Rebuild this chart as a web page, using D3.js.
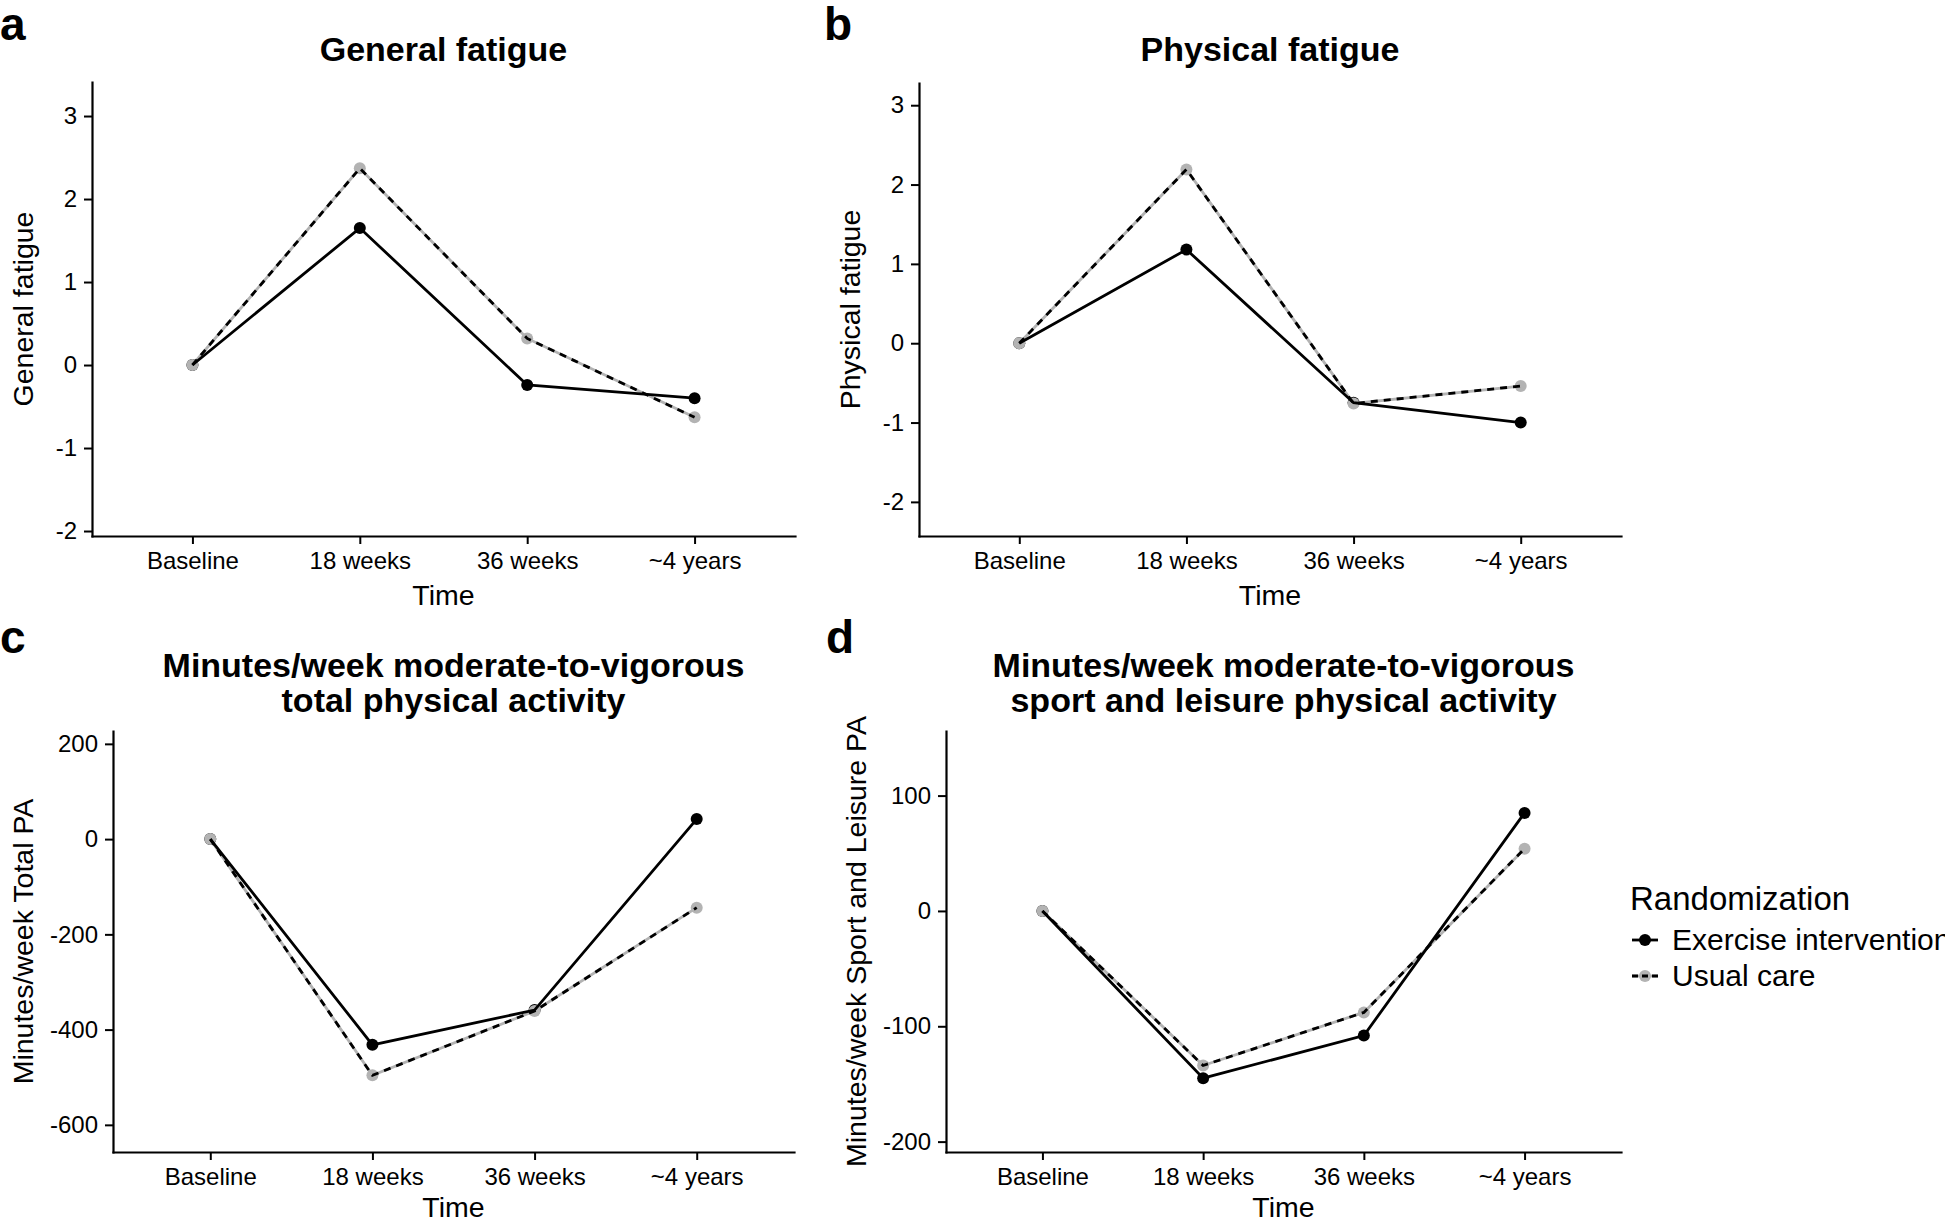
<!DOCTYPE html>
<html>
<head>
<meta charset="utf-8">
<script src="https://cdn.jsdelivr.net/npm/d3@7"></script>
<style>
  html, body { margin: 0; padding: 0; background: #fff; }
  svg { display: block; font-family: "Liberation Sans", Arial, Helvetica, sans-serif; }
</style>
</head>
<body>
<svg id="chart" width="1945" height="1222"></svg>
<script>
// ---------------- data ----------------
const timepoints = ["Baseline", "18 weeks", "36 weeks", "~4 years"];
const groups = ["Exercise intervention", "Usual care"];

const generalExercise = [0, 1.65, -0.24, -0.40];
const generalUsual    = [0, 2.37, 0.32, -0.63];

const physicalExercise = [0, 1.18, -0.75, -1.00];
const physicalUsual    = [0, 2.19, -0.76, -0.54];

const totalPAExercise = [0, -432, -359, 42];
const totalPAUsual    = [0, -496, -361, -144];

const sportPAExercise = [0, -145, -108, 85];
const sportPAUsual    = [0, -134, -88, 54];

const ticksFatigue = [-2, -1, 0, 1, 2, 3];
const ticksTotalPA = [-600, -400, -200, 0, 200];
const ticksSportPA = [-200, -100, 0, 100];

// ---------------- layout ----------------
const svg = d3.select("#chart");
const GRAY = "#b3b3b3";

const panels = [
  { letter: "a", lx: 0, ly: 40, title: ["General fatigue"], titleY: [61],
    ylab: "General fatigue", ylabX: 33,
    x0: 92, x1: 795, yTop: 82, yBot: 536, domain: [-2.06, 3.41], ticks: ticksFatigue,
    ex: generalExercise, uc: generalUsual },
  { letter: "b", lx: 824, ly: 40, title: ["Physical fatigue"], titleY: [61],
    ylab: "Physical fatigue", ylabX: 860,
    x0: 919, x1: 1621, yTop: 83, yBot: 536, domain: [-2.43, 3.28], ticks: ticksFatigue,
    ex: physicalExercise, uc: physicalUsual },
  { letter: "c", lx: 0, ly: 653, title: ["Minutes/week moderate-to-vigorous", "total physical activity"], titleY: [677, 712],
    ylab: "Minutes/week Total PA", ylabX: 33,
    x0: 113, x1: 794, yTop: 731, yBot: 1152, domain: [-657, 227], ticks: ticksTotalPA,
    ex: totalPAExercise, uc: totalPAUsual },
  { letter: "d", lx: 826, ly: 653, title: ["Minutes/week moderate-to-vigorous", "sport and leisure physical activity"], titleY: [677, 712],
    ylab: "Minutes/week Sport and Leisure PA", ylabX: 866,
    x0: 946, x1: 1621, yTop: 731, yBot: 1152, domain: [-209, 156], ticks: ticksSportPA,
    ex: sportPAExercise, uc: sportPAUsual }
];

function drawPanel(p) {
  const x = d3.scalePoint().domain(timepoints).range([p.x0, p.x1]).padding(0.6);
  const y = d3.scaleLinear().domain(p.domain).range([p.yBot, p.yTop]);

  // panel letter
  svg.append("text").attr("x", p.lx).attr("y", p.ly)
    .attr("font-size", 46).attr("font-weight", "bold").text(p.letter);

  // title
  const cx = (p.x0 + p.x1) / 2;
  p.title.forEach((t, i) => {
    svg.append("text").attr("x", cx).attr("y", p.titleY[i])
      .attr("text-anchor", "middle").attr("font-size", 34).attr("font-weight", "bold").text(t);
  });

  // y axis
  const gy = svg.append("g").attr("transform", `translate(${p.x0},0)`)
    .call(d3.axisLeft(y).tickValues(p.ticks).tickSize(8).tickSizeOuter(0).tickPadding(7).tickFormat(d3.format("d")));
  // x axis
  const gx = svg.append("g").attr("transform", `translate(0,${p.yBot})`)
    .call(d3.axisBottom(x).tickSize(8).tickSizeOuter(0).tickPadding(8));
  [gx, gy].forEach(g => {
    g.select(".domain").attr("stroke", "#000").attr("stroke-width", 2.2).attr("stroke-linecap", "square");
    g.selectAll(".tick line").attr("stroke", "#000").attr("stroke-width", 2);
    g.selectAll(".tick text").attr("fill", "#000").attr("font-size", 24)
      .attr("font-family", "'Liberation Sans', Arial, sans-serif");
  });
  gy.selectAll(".tick text").text(d => d < 0 ? "-" + Math.abs(d) : d);

  // axis titles
  svg.append("text").attr("x", cx).attr("y", Math.min(p.yBot + 69, 1217))
    .attr("text-anchor", "middle").attr("font-size", 28.5).text("Time");
  svg.append("text")
    .attr("transform", `translate(${p.ylabX},${(p.yTop + p.yBot) / 2}) rotate(-90)`)
    .attr("text-anchor", "middle").attr("font-size", 28.5).text(p.ylab);

  // marks
  const line = d3.line().x((d, i) => x(timepoints[i])).y(d => y(d));
  const g = svg.append("g");
  g.selectAll("circle.ex").data(p.ex).join("circle").attr("class", "ex")
    .attr("cx", (d, i) => x(timepoints[i])).attr("cy", d => y(d)).attr("r", 6).attr("fill", "#000");
  g.selectAll("circle.uc").data(p.uc).join("circle").attr("class", "uc")
    .attr("cx", (d, i) => x(timepoints[i])).attr("cy", d => y(d)).attr("r", 6).attr("fill", GRAY);
  g.append("path").datum(p.uc).attr("d", line).attr("fill", "none")
    .attr("stroke", GRAY).attr("stroke-width", 2.8);
  g.append("path").datum(p.uc).attr("d", line).attr("fill", "none")
    .attr("stroke", "#000").attr("stroke-width", 2.8).attr("stroke-dasharray", "7,6");
  g.append("path").datum(p.ex).attr("d", line).attr("fill", "none")
    .attr("stroke", "#000").attr("stroke-width", 2.8);
}

panels.forEach(drawPanel);

// ---------------- legend ----------------
const lg = svg.append("g");
lg.append("text").attr("x", 1630).attr("y", 910).attr("font-size", 33).text("Randomization");
const legendY = [940, 976];
groups.forEach((name, i) => {
  const cy = legendY[i];
  const isEx = i === 0;
  if (!isEx) {
    lg.append("line").attr("x1", 1632).attr("x2", 1658).attr("y1", cy).attr("y2", cy)
      .attr("stroke", GRAY).attr("stroke-width", 2.8);
  }
  lg.append("circle").attr("cx", 1645).attr("cy", cy).attr("r", 6).attr("fill", isEx ? "#000" : GRAY);
  lg.append("line").attr("x1", 1632).attr("x2", 1658).attr("y1", cy).attr("y2", cy)
    .attr("stroke", "#000").attr("stroke-width", 2.8)
    .attr("stroke-dasharray", isEx ? null : "6,4");
  lg.append("text").attr("x", 1672).attr("y", cy + 10).attr("font-size", 30).text(name);
});
</script>
</body>
</html>
